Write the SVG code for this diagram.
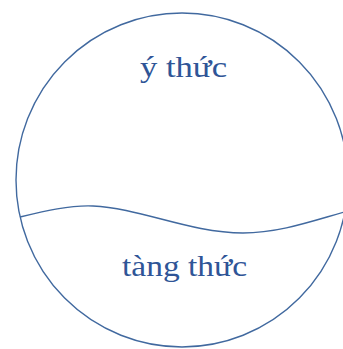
<svg xmlns="http://www.w3.org/2000/svg" width="343" height="349" viewBox="0 0 343 349">
<style>
.shape{fill:none;stroke:#41699f;stroke-width:1.4}
.lbl{font-family:"Liberation Serif","Times New Roman",serif;font-size:29px;fill:#2f5597;text-anchor:middle}
</style>
<rect width="343" height="349" fill="#ffffff"/>
<g id="circle">
<ellipse class="shape" cx="182" cy="180" rx="166" ry="167"/>
</g>
<g id="connectors">
<path class="shape" d="M20,217 C45,211 70,205 93,206 C140,208 190,233 243,233 C280,233 315,220 348,211"/>
</g>
<g id="node-y-thuc">
<text class="lbl" x="183.5" y="77" textLength="87" lengthAdjust="spacingAndGlyphs">ý thức</text>
</g>
<g id="node-tang-thuc">
<text class="lbl" x="184.5" y="276" textLength="125" lengthAdjust="spacingAndGlyphs">tàng thức</text>
</g>
</svg>
